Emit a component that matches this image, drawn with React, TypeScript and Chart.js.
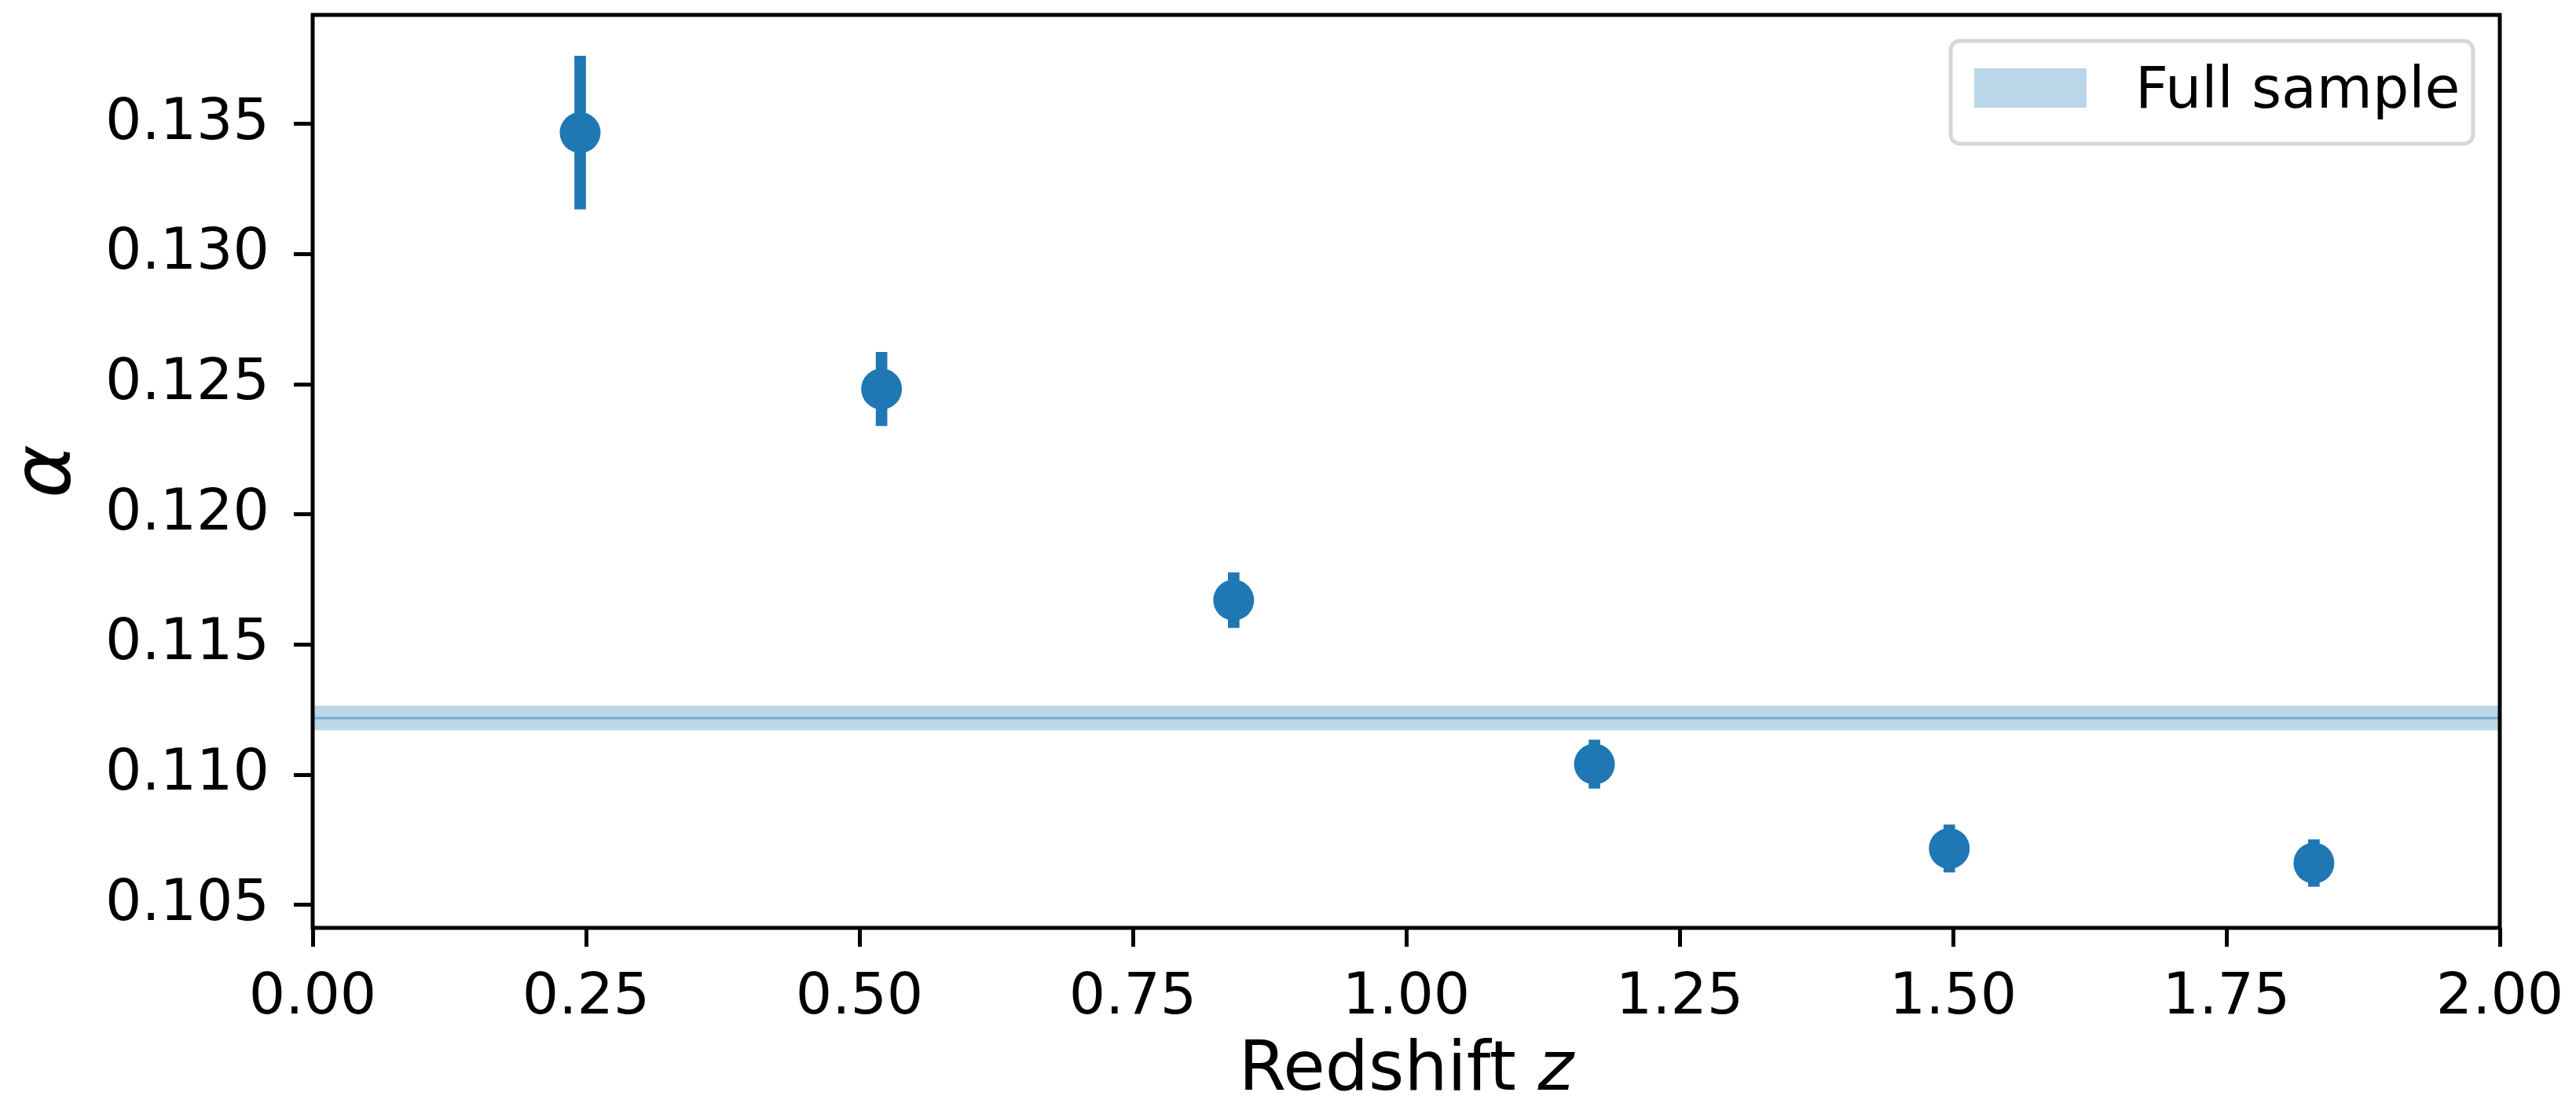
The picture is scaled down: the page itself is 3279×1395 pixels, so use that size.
import { useEffect, useRef } from "react";
import { Chart, registerables } from "chart.js";

Chart.register(...registerables);

// ---- data ----
const redshifts = [0.2446, 0.5202, 0.8422, 1.1721, 1.4966, 1.83];
const alphaValues = [0.13467, 0.12482, 0.11671, 0.11041, 0.10717, 0.10661];
const alphaErrors = [0.00294, 0.00141, 0.00106, 0.00093, 0.00091, 0.0009];
const fullSampleAlpha = 0.11218;
const fullSampleError = 0.00047;
const fullSampleLabel = "Full sample";
const xRange = [0, 2];
const yRange = [0.10412, 0.13919];
const xTicks = [0, 0.25, 0.5, 0.75, 1, 1.25, 1.5, 1.75, 2];
const yTicks = [0.105, 0.11, 0.115, 0.12, 0.125, 0.13, 0.135];
const xTitleText = "Redshift ";
const xTitleVar = "z";
const yTitleText = "α";

const C0 = "#1f77b4";
const BAND = "rgba(31,119,180,0.3)";
const FONT = "DejaVu Sans";

const framePlugin = {
  id: "frame",
  afterDatasetsDraw(chart: any) {
    const { ctx, chartArea: a } = chart;
    ctx.save();
    ctx.strokeStyle = "#000";
    ctx.lineWidth = 5;
    ctx.strokeRect(a.left, a.top, a.right - a.left, a.bottom - a.top);
    ctx.restore();
  },
};

const legendPlugin = {
  id: "boxLegend",
  afterDraw(chart: any) {
    const { ctx, chartArea: a } = chart;
    const right = a.right - 34;
    const top = a.top + 33;
    const w = 665;
    const h = 131;
    const left = right - w;
    ctx.save();
    ctx.beginPath();
    const r = 12;
    ctx.moveTo(left + r, top);
    ctx.arcTo(left + w, top, left + w, top + h, r);
    ctx.arcTo(left + w, top + h, left, top + h, r);
    ctx.arcTo(left, top + h, left, top, r);
    ctx.arcTo(left, top, left + w, top, r);
    ctx.closePath();
    ctx.fillStyle = "rgba(255,255,255,0.8)";
    ctx.fill();
    ctx.strokeStyle = "rgba(204,204,204,0.8)";
    ctx.lineWidth = 5;
    ctx.stroke();
    ctx.fillStyle = BAND;
    ctx.fillRect(left + 30, top + 35, 143, 50);
    ctx.fillStyle = "#000";
    ctx.font = `73px "${FONT}"`;
    ctx.textBaseline = "alphabetic";
    ctx.textAlign = "left";
    ctx.fillText(fullSampleLabel, left + 235, top + 85);
    ctx.restore();
  },
};

const xTitlePlugin = {
  id: "xTitle",
  afterDraw(chart: any) {
    const { ctx, chartArea: a } = chart;
    ctx.save();
    ctx.fillStyle = "#000";
    ctx.textBaseline = "alphabetic";
    ctx.textAlign = "left";
    const fN = `87px "${FONT}"`;
    const fI = `italic 87px "${FONT}"`;
    ctx.font = fN;
    const w1 = ctx.measureText(xTitleText).width;
    ctx.font = fI;
    const w2 = ctx.measureText(xTitleVar).width;
    const cx = (a.left + a.right) / 2;
    const x0 = cx - (w1 + w2) / 2;
    const y = a.bottom + 206;
    ctx.font = fN;
    ctx.fillText(xTitleText, x0, y);
    ctx.font = fI;
    ctx.fillText(xTitleVar, x0 + w1, y);
    ctx.restore();
  },
};

export default function App() {
  const ref = useRef<HTMLCanvasElement | null>(null);

  useEffect(() => {
    document.body.style.margin = "0";
    document.body.style.overflow = "hidden";
    const canvas = ref.current!;
    const pts = redshifts.map((z, i) => ({ x: z, y: alphaValues[i] }));
    const errs = redshifts.map((z, i) => ({
      x: z,
      y: [alphaValues[i] - alphaErrors[i], alphaValues[i] + alphaErrors[i]],
    }));
    const bandUpper = xRange.map((x) => ({ x, y: fullSampleAlpha + fullSampleError }));
    const bandLower = xRange.map((x) => ({ x, y: fullSampleAlpha - fullSampleError }));
    const bandMid = xRange.map((x) => ({ x, y: fullSampleAlpha }));

    const chart = new Chart(canvas, {
      type: "scatter",
      data: {
        datasets: [
          {
            type: "line",
            label: fullSampleLabel,
            data: bandUpper,
            borderWidth: 0,
            pointRadius: 0,
            fill: "+1",
            backgroundColor: BAND,
            borderColor: "rgba(0,0,0,0)",
            order: 10,
          },
          {
            type: "line",
            label: "band-lower",
            data: bandLower,
            borderWidth: 0,
            pointRadius: 0,
            fill: false,
            borderColor: "rgba(0,0,0,0)",
            order: 11,
          },
          {
            type: "line",
            label: "full-sample-mean",
            data: bandMid,
            borderWidth: 3,
            pointRadius: 0,
            fill: false,
            borderColor: "rgba(31,119,180,0.45)",
            order: 9,
          },
          {
            type: "bar",
            label: "errors",
            data: errs as any,
            backgroundColor: C0,
            borderWidth: 0,
            barThickness: 14,
            order: 2,
          },
          {
            type: "scatter",
            label: "alpha",
            data: pts,
            backgroundColor: C0,
            borderWidth: 0,
            pointRadius: 26,
            pointHoverRadius: 26,
            order: 1,
          },
        ],
      },
      options: {
        responsive: false,
        animation: false,
        events: [],
        layout: { autoPadding: false, padding: { left: 0, top: 19, right: 97, bottom: 0 } },
        plugins: {
          legend: { display: false },
          tooltip: { enabled: false },
        },
        scales: {
          x: {
            type: "linear",
            offset: false,
            min: xRange[0],
            max: xRange[1],
            afterBuildTicks: (s: any) => {
              s.ticks = xTicks.map((v) => ({ value: v }));
            },
            afterFit: (s: any) => {
              s.height = 214;
              s.paddingLeft = 0;
              s.paddingRight = 0;
            },
            ticks: {
              callback: (v: any) => Number(v).toFixed(2),
              font: { family: FONT, size: 73 },
              color: "#000",
              padding: 22,
              maxRotation: 0,
              autoSkip: false,
            },
            grid: {
              offset: false,
              drawOnChartArea: false,
              drawTicks: true,
              tickLength: 24,
              tickWidth: 5,
              tickColor: "#000",
            },
            border: { display: false },
          },
          y: {
            type: "linear",
            min: yRange[0],
            max: yRange[1],
            afterBuildTicks: (s: any) => {
              s.ticks = yTicks.map((v) => ({ value: v }));
            },
            afterFit: (s: any) => {
              s.width = 398;
              s.paddingTop = 0;
              s.paddingBottom = 0;
            },
            ticks: {
              callback: (v: any) => Number(v).toFixed(3),
              font: { family: FONT, size: 73 },
              color: "#000",
              padding: 31,
              autoSkip: false,
            },
            grid: {
              drawOnChartArea: false,
              drawTicks: true,
              tickLength: 24,
              tickWidth: 5,
              tickColor: "#000",
            },
            border: { display: false },
            title: {
              display: true,
              text: yTitleText,
              color: "#000",
              font: { family: FONT, size: 104, style: "italic" },
              padding: 0,
            },
          },
        },
      },
      plugins: [framePlugin, legendPlugin, xTitlePlugin],
    });
    return () => chart.destroy();
  }, []);

  return <canvas ref={ref} width={3279} height={1395} style={{ display: "block", width: 3279, height: 1395 }} />;
}
